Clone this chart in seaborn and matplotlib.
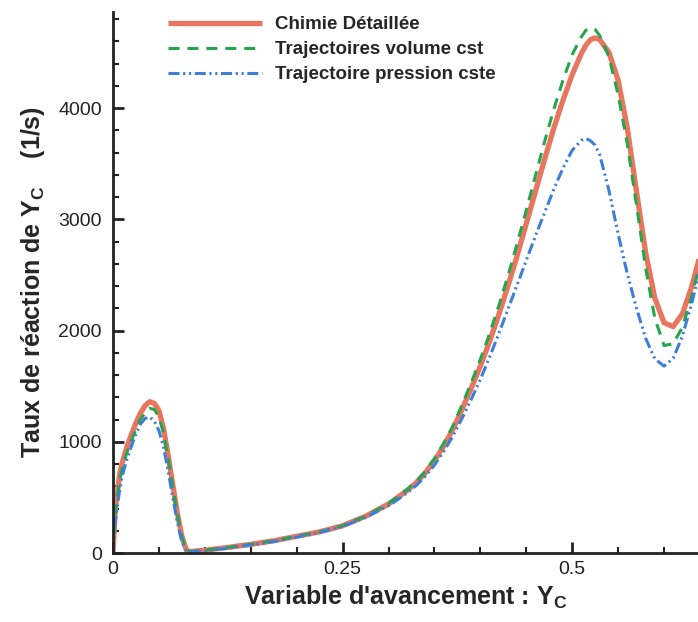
import numpy as np
import pandas as pd
import matplotlib
matplotlib.use("Agg")
import matplotlib.pyplot as plt
from matplotlib.ticker import MultipleLocator, FixedLocator
import seaborn as sns

# ---- data ----
x_vals = [0.0, 0.0025, 0.005, 0.0075, 0.01, 0.015, 0.02, 0.025, 0.03, 0.035,
          0.04, 0.045, 0.05, 0.055, 0.06, 0.065, 0.07, 0.075, 0.08, 0.085, 0.09,
          0.1, 0.125, 0.15, 0.175, 0.2, 0.225, 0.25, 0.275,
          0.30, 0.31, 0.32, 0.33, 0.34, 0.35, 0.36, 0.37, 0.38, 0.39, 0.40,
          0.41, 0.42, 0.43, 0.44, 0.45, 0.46, 0.47, 0.48, 0.49, 0.50, 0.51,
          0.515, 0.52, 0.525,
          0.53, 0.54, 0.55, 0.56, 0.57, 0.58, 0.59, 0.60, 0.61, 0.62, 0.63, 0.64]

chimie_detaillee = [0, 390, 560, 720, 810, 950, 1065, 1170, 1260, 1325,
                    1360, 1345, 1280, 1120, 880, 620, 360, 150, 25, 12, 18,
                    25, 50, 78, 110, 150, 190, 245, 330,
                    440, 500, 560, 630, 720, 830, 960, 1110, 1290, 1480, 1680,
                    1900, 2140, 2400, 2670, 2960, 3250, 3540, 3820, 4070, 4300, 4490,
                    4565, 4615, 4630,
                    4615, 4500, 4250, 3820, 3250, 2700, 2290, 2070, 2035, 2150, 2390, 2700]

traj_volume = [0, 350, 520, 660, 760, 900, 1010, 1110, 1200, 1265,
               1300, 1290, 1225, 1080, 850, 600, 350, 145, 25, 12, 18,
               25, 50, 78, 110, 150, 190, 245, 330,
               445, 505, 570, 640, 735, 850, 985, 1140, 1330, 1530, 1740,
               1970, 2220, 2490, 2780, 3080, 3390, 3700, 3990, 4250, 4480, 4640,
               4700, 4720, 4705,
               4650, 4460, 4120, 3680, 3130, 2560, 2110, 1865, 1880, 2030, 2300, 2640]

traj_pression = [0, 280, 440, 580, 690, 840, 960, 1070, 1160, 1210,
                 1222, 1185, 1100, 950, 740, 500, 280, 100, 15, 10, 15,
                 20, 45, 72, 103, 143, 185, 238, 320,
                 425, 480, 540, 605, 690, 790, 910, 1050, 1210, 1380, 1560,
                 1760, 1970, 2190, 2410, 2630, 2850, 3060, 3270, 3460, 3620, 3710,
                 3725, 3705, 3665,
                 3580, 3260, 2870, 2510, 2200, 1930, 1745, 1680, 1750, 1950, 2240, 2570]

series_names = ["Chimie Détaillée", "Trajectoires volume cst", "Trajectoire pression cste"]
x_ticks = [0, 0.25, 0.5]
x_tick_labels = ["0", "0.25", "0.5"]
y_ticks = [0, 1000, 2000, 3000, 4000]
y_tick_labels = ["0", "1000", "2000", "3000", "4000"]

df = pd.DataFrame({
    "x": x_vals * 3,
    "y": chimie_detaillee + traj_volume + traj_pression,
    "serie": sum([[n] * len(x_vals) for n in series_names], []),
})

sns.set_theme(style="ticks")
plt.rcParams["font.family"] = ["Liberation Sans", "DejaVu Sans"]
plt.rcParams["mathtext.fontset"] = "custom"
plt.rcParams["mathtext.rm"] = "Liberation Sans"
plt.rcParams["mathtext.bf"] = "Liberation Sans:bold"

fig = plt.figure(figsize=(6.98, 6.22), dpi=100)
ax = fig.add_axes([113 / 698, 69 / 622, 585 / 698, 541 / 622])

colors = {"Chimie Détaillée": "#e8765e",
          "Trajectoires volume cst": "#25a54c",
          "Trajectoire pression cste": "#3d7fd6"}
styles = {"Chimie Détaillée": dict(lw=3.8, ls="-"),
          "Trajectoires volume cst": dict(lw=2.2, ls=(0, (3.6, 2.6))),
          "Trajectoire pression cste": dict(lw=2.2, ls=(0, (3.6, 1.2, 0.7, 1.2, 0.7, 1.2)))}

for name in series_names:
    sub = df[df["serie"] == name]
    sns.lineplot(data=sub, x="x", y="y", ax=ax, color=colors[name],
                 label=name, estimator=None, sort=False,
                 solid_capstyle="butt", dash_capstyle="butt",
                 solid_joinstyle="round", **styles[name])

ax.set_xlim(0, 0.637)
ax.set_ylim(0, 4863)
ax.xaxis.set_major_locator(FixedLocator(x_ticks))
ax.set_xticklabels(x_tick_labels)
ax.yaxis.set_major_locator(FixedLocator(y_ticks))
ax.set_yticklabels(y_tick_labels)
ax.xaxis.set_minor_locator(MultipleLocator(0.05))
ax.yaxis.set_minor_locator(MultipleLocator(200))
ax.tick_params(which="major", direction="in", length=8, width=2, labelsize=14,
               colors="#222222", pad=6)
ax.tick_params(which="minor", direction="in", length=4, width=1.5, colors="#222222")
ax.tick_params(axis="y", which="major", pad=8)

for s in ["top", "right"]:
    ax.spines[s].set_visible(False)
for s in ["left", "bottom"]:
    ax.spines[s].set_linewidth(2)
    ax.spines[s].set_color("#222222")

ax.set_xlabel(r"Variable d'avancement : Y$_\mathbf{C}$", fontsize=18,
              fontweight="bold", labelpad=4)
ax.set_ylabel(r"Taux de réaction de Y$_\mathbf{C}$    (1/s)", fontsize=18,
              fontweight="bold", labelpad=8)

leg = ax.legend(loc="upper left", bbox_to_anchor=(42 / 585, 1.0165), frameon=False,
                handlelength=5.0, handletextpad=0.7, labelspacing=0.42,
                borderaxespad=0.3, prop={"weight": "bold", "size": 13.5})
ax.set_facecolor("white")
fig.patch.set_facecolor("white")
fig.savefig("out.png", dpi=100)
